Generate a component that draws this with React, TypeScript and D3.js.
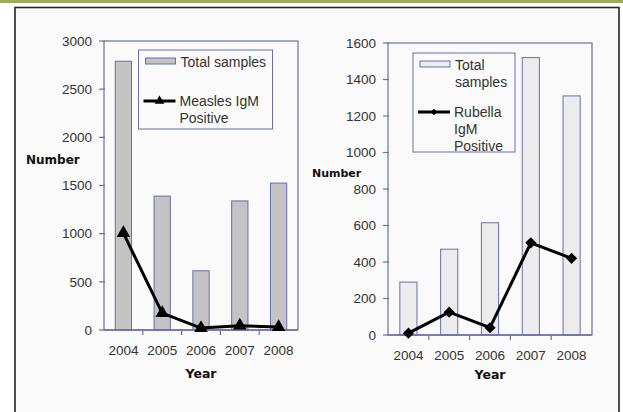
import React from "react";
import * as d3 from "d3";

const years = ["2004", "2005", "2006", "2007", "2008"];
const measlesTotal = [2790, 1390, 615, 1340, 1525];
const measlesPositive = [1005, 175, 20, 45, 30];
const rubellaTotal = [290, 470, 615, 1520, 1310];
const rubellaPositive = [10, 125, 40, 505, 420];
const measlesTicks = [0, 500, 1000, 1500, 2000, 2500, 3000];
const rubellaTicks = [0, 200, 400, 600, 800, 1000, 1200, 1400, 1600];

const AXIS = "#6a6fae";
const TEXT = "#333";
const FONT = "'Liberation Sans', Arial, sans-serif";
const BOLD = "'DejaVu Sans', Verdana, sans-serif";

type PanelProps = {
  left: number; right: number; top: number; bottom: number;
  max: number; ticks: number[]; totals: number[]; positives: number[];
  barFill: string; marker: "triangle" | "diamond";
  numberX: number; numberY: number; numberSize: number; yearOffset: number;
  legend: { x: number; y: number; w: number; h: number; lines1: string[]; lines2: string[] };
};

function markerPath(kind: "triangle" | "diamond", big: boolean) {
  if (kind === "triangle") return d3.symbol().type(d3.symbolTriangle).size(big ? 80 : 40)()!;
  return d3.symbol().type(d3.symbolSquare).size(big ? 62 : 22)()!;
}

function Panel(p: PanelProps) {
  const x = d3.scaleBand().domain(years).range([p.left, p.right]);
  const y = d3.scaleLinear().domain([0, p.max]).range([p.bottom, p.top]);
  const bw = x.bandwidth() * 0.42;
  const cx = (i: number) => x(years[i])! + x.bandwidth() / 2;
  const line = d3.line<number>().x((_, i) => cx(i)).y((d) => y(d));
  const rot = p.marker === "diamond" ? " rotate(45)" : "";
  const L = p.legend;
  const ly = L.y + 12 + L.lines1.length * 17 + (L.lines1.length > 1 ? 13 : 22);
  return (
    <g fontFamily={FONT}>
      {p.totals.map((v, i) => (
        <rect key={i} x={x(years[i])! + (x.bandwidth() - bw) / 2} y={y(v)} width={bw} height={p.bottom - y(v)}
          fill={p.barFill} stroke={AXIS} strokeWidth={1} />
      ))}
      <rect x={p.left} y={p.top} width={p.right - p.left} height={p.bottom - p.top} fill="none" stroke={AXIS} strokeWidth={1.2} />
      {p.ticks.map((t) => (
        <g key={t}>
          <line x1={p.left - 5} x2={p.left + 1} y1={y(t)} y2={y(t)} stroke={AXIS} strokeWidth={1.2} />
          <text x={p.left - 12} y={y(t)} dy="0.35em" textAnchor="end" fontSize={13.5} fill={TEXT}>{t}</text>
        </g>
      ))}
      {years.map((yr, i) => (
        <g key={yr}>
          {i > 0 && <line x1={x(yr)!} x2={x(yr)!} y1={p.bottom} y2={p.bottom + 5} stroke={AXIS} strokeWidth={1.2} />}
          <text x={cx(i)} y={p.bottom + 20} dy="0.35em" textAnchor="middle" fontSize={13.5} fill={TEXT}>{yr}</text>
        </g>
      ))}
      <line x1={p.left} x2={p.right} y1={p.bottom} y2={p.bottom} stroke={AXIS} strokeWidth={1.5} />
      <path d={line(p.positives)!} fill="none" stroke="#000" strokeWidth={3} />
      {p.positives.map((v, i) => (
        <path key={i} d={markerPath(p.marker, true)} transform={`translate(${cx(i)},${y(v)})${rot}`} fill="#000" />
      ))}
      <text x={(p.left + p.right) / 2} y={p.bottom + p.yearOffset} dy="0.35em" textAnchor="middle" fontFamily={BOLD}
        fontSize={12.5} fontWeight="bold" fill="#111">Year</text>
      <text x={p.numberX} y={p.numberY} dy="0.35em" fontFamily={BOLD} fontSize={p.numberSize} fontWeight="bold" fill="#111">Number</text>
      <rect x={L.x} y={L.y} width={L.w} height={L.h} fill="#fafafa" stroke={AXIS} strokeWidth={1} />
      <rect x={L.x + 7} y={L.y + 8} width={30} height={6} fill={p.barFill} stroke={AXIS} strokeWidth={1} />
      {L.lines1.map((s, i) => (
        <text key={s} x={L.x + 42} y={L.y + 12 + i * 17} dy="0.35em" fontSize={14} fill={TEXT}>{s}</text>
      ))}
      <line x1={L.x + 5} x2={L.x + 37} y1={ly} y2={ly} stroke="#000" strokeWidth={3} />
      <path d={markerPath(p.marker, false)} transform={`translate(${L.x + 21},${ly})${rot}`} fill="#000" />
      {L.lines2.map((s, i) => (
        <text key={s} x={L.x + 41} y={ly + i * 17} dy="0.35em" fontSize={14} fill={TEXT}>{s}</text>
      ))}
    </g>
  );
}

export default function App() {
  return (
    <svg width={623} height={412} style={{ position: "absolute", left: 0, top: 0, background: "#fff" }}>
      <rect x={0} y={0} width={623} height={3} fill="#9fab58" />
      <rect x={15} y={7.5} width={604} height={420} fill="#fafafa" stroke="#222" strokeWidth={1.6} />
      <Panel left={104} right={298} top={41} bottom={330} max={3000} ticks={measlesTicks}
        totals={measlesTotal} positives={measlesPositive} barFill="#c3c3c3" marker="triangle"
        numberX={26} numberY={160} numberSize={12} yearOffset={44}
        legend={{ x: 138.5, y: 50, w: 134, h: 79, lines1: ["Total samples"], lines2: ["Measles IgM", "Positive"] }} />
      <Panel left={388} right={592} top={43} bottom={335} max={1600} ticks={rubellaTicks}
        totals={rubellaTotal} positives={rubellaPositive} barFill="#ececec" marker="diamond"
        numberX={312} numberY={173} numberSize={11} yearOffset={40}
        legend={{ x: 413, y: 53, w: 102, h: 99, lines1: ["Total", "samples"], lines2: ["Rubella", "IgM", "Positive"] }} />
    </svg>
  );
}
